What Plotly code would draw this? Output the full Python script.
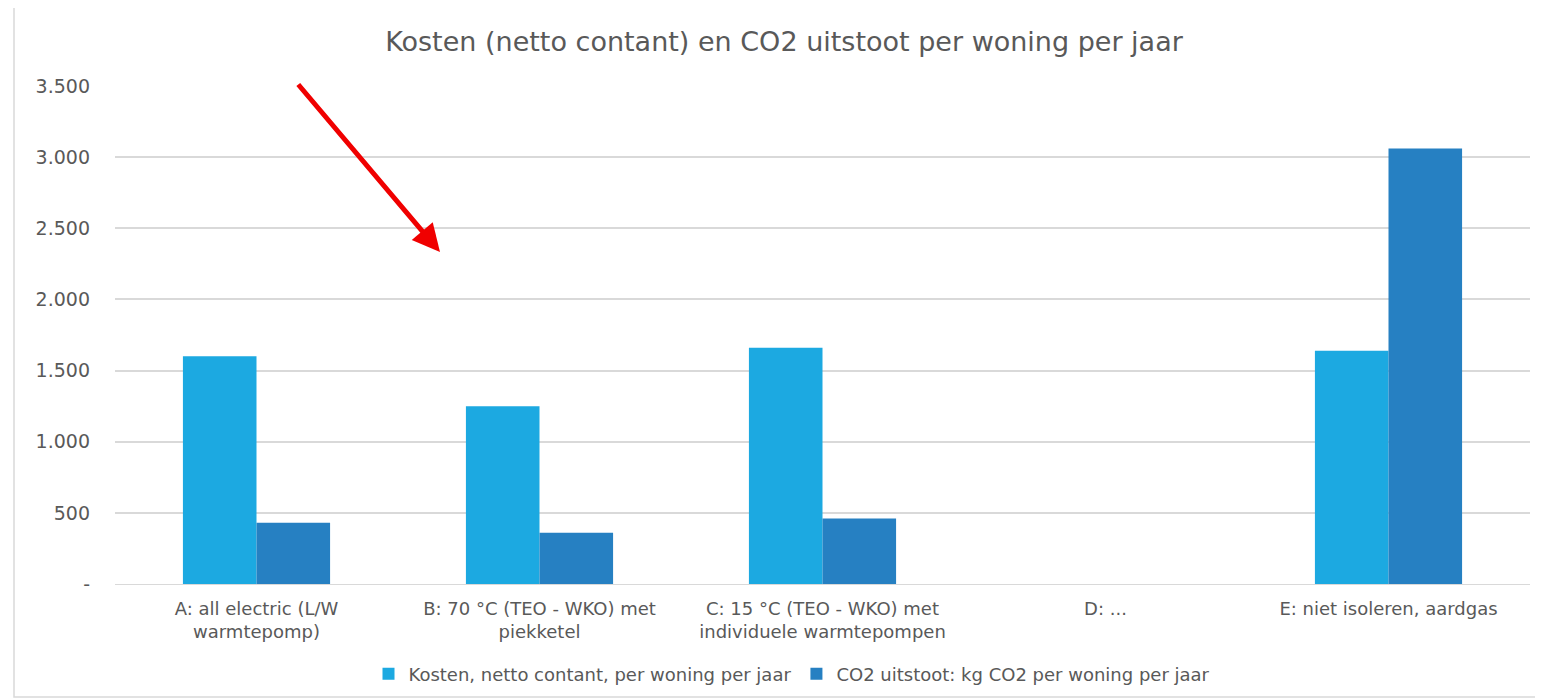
import plotly.graph_objects as go

categories = [
    "A: all electric (L/W<br>warmtepomp)",
    "B: 70 °C (TEO - WKO) met<br>piekketel",
    "C: 15 °C (TEO - WKO) met<br>individuele warmtepompen",
    "D: ...",
    "E: niet isoleren, aardgas",
]
kosten = [1600, 1250, 1660, None, 1640]
co2 = [430, 360, 460, None, 3060]
series_names = [
    "Kosten, netto contant, per woning per jaar",
    "CO2 uitstoot: kg CO2 per woning per jaar",
]
y_tickvals = [0, 500, 1000, 1500, 2000, 2500, 3000, 3500]
y_ticktext = ["-", "500", "1.000", "1.500", "2.000", "2.500", "3.000", "3.500"]

FONT = "'DejaVu Sans', sans-serif"
GREY = "#595959"

fig = go.Figure()
fig.add_trace(go.Bar(x=categories, y=kosten, name=series_names[0],
                     marker=dict(color="#1CA9E1", line=dict(width=0))))
fig.add_trace(go.Bar(x=categories, y=co2, name=series_names[1],
                     marker=dict(color="#2680C2", line=dict(width=0))))

OFF = 8  # page body margin
W, H = 1543 - OFF, 700 - OFF
L = 115 - OFF
T = 86 - OFF
B = H - (584 - OFF)
R = W - (1530 - OFF)
pw, ph = W - L - R, H - T - B

def px(xs):
    return (xs - OFF - L) / pw

def py(ys):
    return (H - B - (ys - OFF)) / ph

fig.update_layout(
    width=W, height=H,
    margin=dict(l=L, r=R, t=T, b=B, autoexpand=False),
    paper_bgcolor="white", plot_bgcolor="white",
    barmode="group", bargap=0.48, bargroupgap=0,
    font=dict(family=FONT, color=GREY, size=15),
    title=dict(text="Kosten (netto contant) en CO2 uitstoot per woning per jaar",
               x=px(784), xref="paper", xanchor="center",
               y=1 - (42 - OFF) / H, yanchor="middle",
               font=dict(size=27, color=GREY, family=FONT)),
    xaxis=dict(showgrid=False, showline=True, linecolor="#D9D9D9", linewidth=1,
               ticks="", ticklabelstandoff=8, automargin=False,
               tickfont=dict(size=18, color=GREY)),
    yaxis=dict(range=[0, 3500], tickvals=y_tickvals, ticktext=y_ticktext,
               showgrid=True, gridcolor="#D9D9D9", gridwidth=1.5,
               zeroline=False, showline=False, ticks="", automargin=False,
               ticklabelstandoff=24,
               tickfont=dict(size=19, color=GREY)),
    legend=dict(orientation="h", x=px(792), xanchor="center",
                y=py(674), yanchor="middle",
                font=dict(size=18, color=GREY), itemwidth=30,
                traceorder="normal"),
    showlegend=True,
)

# red arrow
fig.add_annotation(x=px(440), y=py(252), ax=297 - 440, ay=83 - 252,
                   xref="paper", yref="paper", axref="pixel", ayref="pixel",
                   text="", showarrow=True, arrowhead=2, arrowsize=1.1,
                   arrowwidth=5, arrowcolor="#F00000")

# outer frame
fig.add_shape(type="rect", xref="paper", yref="paper",
              x0=px(14), x1=px(1538), y0=py(697), y1=py(6),
              line=dict(color="#D9D9D9", width=1.5), fillcolor="rgba(0,0,0,0)",
              layer="below")

fig.write_html("out.html")
